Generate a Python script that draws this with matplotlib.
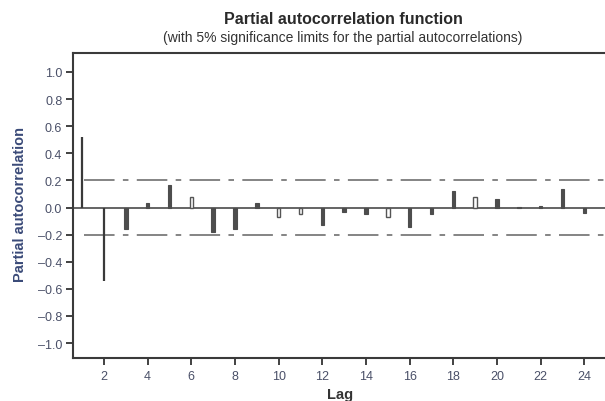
import matplotlib
matplotlib.use("Agg")
import matplotlib.pyplot as plt

plt.rcParams['font.family'] = ['Liberation Sans', 'DejaVu Sans']
plt.rcParams['lines.scale_dashes'] = False

# Data
lags = list(range(1, 25))
pacf = [0.52, -0.54, -0.155, 0.03, 0.165, 0.075, -0.18, -0.155, 0.035, -0.07,
        -0.045, -0.13, -0.035, -0.045, -0.07, -0.145, -0.045, 0.125, 0.075, 0.062,
        0.005, 0.013, 0.137, -0.04]
hollow_lags = [6, 10, 11, 15, 19]
line_lags = [1, 2]
sig_limit = 0.2
xticks = list(range(2, 25, 2))
yticks = [-1.0, -0.8, -0.6, -0.4, -0.2, 0.0, 0.2, 0.4, 0.6, 0.8, 1.0]

W, H = 605, 402
fig = plt.figure(figsize=(W / 100, H / 100), dpi=100)
ax = fig.add_axes([72.7 / W, (H - 359) / H, 1.0 - 72.7 / W + 0.002, (359 - 54) / H])

dark = '#4a4a4a'
# zero line
ax.axhline(0, color=dark, lw=1.2, zorder=2)
# significance limits
for s in (sig_limit, -sig_limit):
    ax.plot([1.1, 25.5], [s, s], color='#707070', lw=1.2,
            linestyle=(0, (22, 6, 4, 6)), zorder=1)

for lag, v in zip(lags, pacf):
    if lag in line_lags:
        ax.vlines(lag, 0, v, color='#3a3a3a', lw=1.6, zorder=3)
    elif lag in hollow_lags:
        ax.bar(lag, v, width=0.16, bottom=0, facecolor='white', edgecolor='#555555',
               linewidth=1.0, zorder=3)
    else:
        ax.bar(lag, v, width=0.16, bottom=0, facecolor='#4d4d4d', edgecolor='#4d4d4d',
               linewidth=0.8, zorder=3)

ax.set_xlim(0.57, 25.0)
ax.set_ylim(-1.11, 1.14)
ax.set_xticks(xticks)
ax.set_yticks(yticks)
ax.set_yticklabels([f"{t:.1f}".replace('-', '\u2013') for t in yticks])
ax.tick_params(axis='both', direction='out', length=5, width=1.3, color='#333333',
               labelsize=9, labelcolor='#4a5068')
ax.tick_params(axis='y', pad=2.5)
ax.tick_params(axis='x', pad=3.5)
for side in ('left', 'bottom', 'top'):
    ax.spines[side].set_linewidth(1.5)
    ax.spines[side].set_color('#3a3a3a')
ax.spines['right'].set_visible(False)

fig.text(340 / W, 1 - 395 / H, 'Lag', ha='center', va='center',
         fontsize=10.5, fontweight='bold', color='#333333')
fig.text(20 / W, 1 - 205 / H, 'Partial autocorrelation', ha='center', va='center',
         rotation=90, fontsize=10.5, fontweight='bold', color='#3a4a78')

fig.text(343 / W, 1 - 20 / H, 'Partial autocorrelation function', ha='center', va='center',
         fontsize=11.5, fontweight='bold', color='#2a2a2a')
fig.text(343 / W, 1 - 38 / H, '(with 5% significance limits for the partial autocorrelations)',
         ha='center', va='center', fontsize=10, color='#333333')

fig.savefig('out.png', dpi=100)
